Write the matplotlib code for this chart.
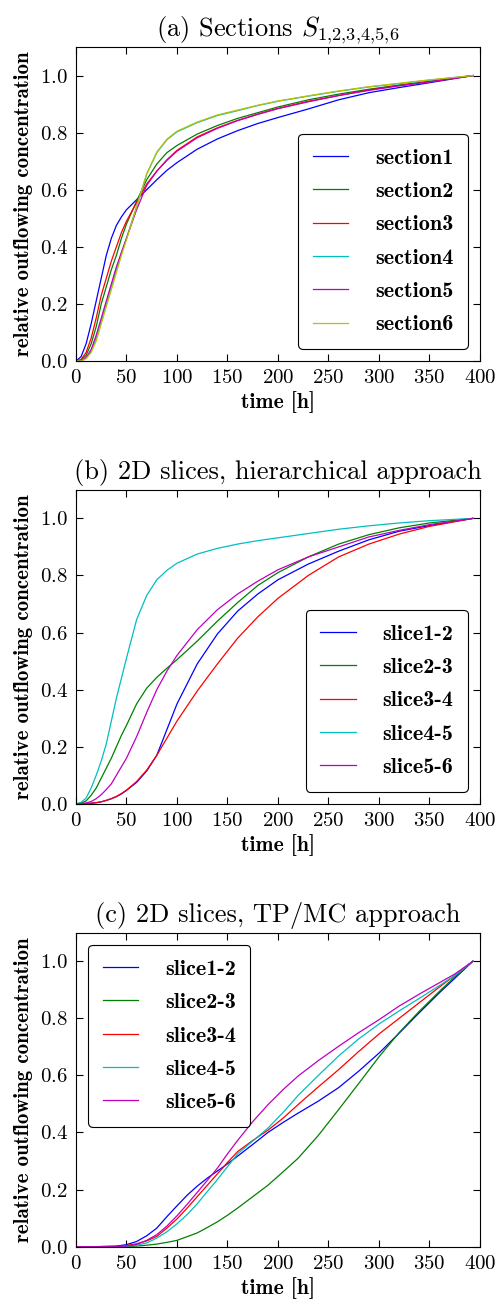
import matplotlib
matplotlib.use("Agg")
import matplotlib.pyplot as plt
from matplotlib.font_manager import FontProperties

plt.rcParams['font.family'] = 'cmr10'
plt.rcParams['mathtext.fontset'] = 'cm'
plt.rcParams['axes.unicode_minus'] = False
plt.rcParams['axes.formatter.use_mathtext'] = True

# classic matplotlib colours b, g, r, c, m, y
colors = ['#0000ff', '#008000', '#ff0000', '#00bfbf', '#bf00bf', '#bfbf00']

# (a) sections S1..S6
t_a = [0, 5, 10, 15, 20, 25, 30, 35, 40, 45, 50, 60, 70, 80, 90, 100, 120,
       140, 160, 180, 200, 230, 260, 290, 320, 350, 393]
section1 = [0.0, 0.015, 0.06, 0.13, 0.21, 0.29, 0.37, 0.43, 0.475, 0.505, 0.53, 0.565,
            0.6, 0.635, 0.668, 0.695, 0.742, 0.778, 0.807, 0.832, 0.853, 0.883, 0.915,
            0.94, 0.958, 0.975, 1.0]
section2 = [0.0, 0.003, 0.02, 0.06, 0.12, 0.2, 0.26, 0.32, 0.37, 0.43, 0.48, 0.56,
            0.635, 0.69, 0.73, 0.755, 0.795, 0.825, 0.85, 0.87, 0.89, 0.915, 0.935,
            0.952, 0.967, 0.98, 1.0]
section3 = [0.0, 0.005, 0.03, 0.08, 0.15, 0.23, 0.29, 0.35, 0.4, 0.45, 0.49, 0.555,
            0.62, 0.665, 0.705, 0.738, 0.785, 0.817, 0.843, 0.865, 0.885, 0.91, 0.93,
            0.95, 0.965, 0.978, 1.0]
section4 = [0.0, 0.0, 0.01, 0.035, 0.08, 0.14, 0.2, 0.26, 0.32, 0.38, 0.43, 0.54,
            0.655, 0.73, 0.775, 0.803, 0.835, 0.86, 0.877, 0.895, 0.91, 0.928, 0.945,
            0.96, 0.972, 0.984, 1.0]
section5 = [0.0, 0.0, 0.012, 0.04, 0.09, 0.15, 0.21, 0.27, 0.33, 0.38, 0.43, 0.53,
            0.615, 0.665, 0.703, 0.735, 0.782, 0.815, 0.842, 0.864, 0.884, 0.908, 0.93,
            0.948, 0.964, 0.978, 1.0]
section6 = [0.0, 0.0, 0.008, 0.03, 0.07, 0.13, 0.19, 0.25, 0.31, 0.37, 0.425, 0.54,
            0.655, 0.732, 0.777, 0.805, 0.837, 0.862, 0.879, 0.896, 0.911, 0.929, 0.946,
            0.961, 0.973, 0.985, 1.0]
labels_a = ['section1', 'section2', 'section3', 'section4', 'section5', 'section6']

# (b) 2D slices, hierarchical approach
t_b = t_a
hier_12 = [0.0, 0.0, 0.001, 0.002, 0.004, 0.007, 0.012, 0.018, 0.025, 0.035, 0.047, 0.075,
           0.115, 0.17, 0.26, 0.35, 0.49, 0.595, 0.675, 0.735, 0.785, 0.84, 0.885,
           0.925, 0.955, 0.975, 1.0]
hier_23 = [0.0, 0.002, 0.01, 0.03, 0.055, 0.09, 0.125, 0.16, 0.2, 0.24, 0.275, 0.35,
           0.405, 0.443, 0.475, 0.505, 0.57, 0.64, 0.705, 0.765, 0.81, 0.865, 0.91,
           0.943, 0.967, 0.984, 1.0]
hier_34 = [0.0, 0.0, 0.001, 0.002, 0.004, 0.007, 0.012, 0.018, 0.026, 0.036, 0.048, 0.078,
           0.118, 0.17, 0.23, 0.29, 0.395, 0.49, 0.58, 0.655, 0.72, 0.8, 0.865,
           0.91, 0.945, 0.972, 1.0]
hier_45 = [0.0, 0.005, 0.02, 0.055, 0.1, 0.15, 0.21, 0.29, 0.37, 0.44, 0.51, 0.645,
           0.73, 0.785, 0.818, 0.843, 0.875, 0.895, 0.91, 0.922, 0.932, 0.947, 0.962,
           0.974, 0.984, 0.992, 1.0]
hier_56 = [0.0, 0.001, 0.003, 0.008, 0.018, 0.032, 0.05, 0.07, 0.1, 0.13, 0.16, 0.235,
           0.32, 0.4, 0.465, 0.52, 0.61, 0.68, 0.735, 0.78, 0.82, 0.865, 0.9,
           0.935, 0.958, 0.978, 1.0]
labels_slices = ['slice1-2', 'slice2-3', 'slice3-4', 'slice4-5', 'slice5-6']

# (c) 2D slices, TP/MC approach
t_c = [0, 20, 40, 50, 60, 70, 80, 90, 100, 110, 120, 130, 140, 150, 160, 175, 190,
       205, 220, 240, 260, 280, 300, 320, 340, 360, 375, 393]
tpmc_12 = [0.0, 0.0, 0.002, 0.007, 0.018, 0.038, 0.065, 0.105, 0.143, 0.18, 0.212, 0.24,
           0.265, 0.29, 0.317, 0.358, 0.4, 0.435, 0.468, 0.51, 0.557, 0.615, 0.678,
           0.748, 0.82, 0.89, 0.94, 1.0]
tpmc_23 = [0.0, 0.0, 0.0, 0.0, 0.002, 0.005, 0.009, 0.015, 0.022, 0.035, 0.048, 0.067,
           0.087, 0.11, 0.135, 0.175, 0.215, 0.262, 0.31, 0.39, 0.48, 0.572, 0.665,
           0.75, 0.825, 0.895, 0.945, 1.0]
tpmc_34 = [0.0, 0.0, 0.001, 0.004, 0.01, 0.02, 0.036, 0.065, 0.097, 0.135, 0.175, 0.215,
           0.255, 0.295, 0.333, 0.372, 0.408, 0.45, 0.498, 0.56, 0.62, 0.684, 0.745,
           0.8, 0.855, 0.91, 0.95, 1.0]
tpmc_45 = [0.0, 0.0, 0.0, 0.001, 0.005, 0.013, 0.03, 0.052, 0.08, 0.112, 0.15, 0.193,
           0.235, 0.28, 0.325, 0.37, 0.415, 0.47, 0.53, 0.6, 0.668, 0.728, 0.78,
           0.826, 0.87, 0.915, 0.95, 1.0]
tpmc_56 = [0.0, 0.0, 0.0, 0.002, 0.008, 0.022, 0.042, 0.072, 0.108, 0.148, 0.19, 0.232,
           0.275, 0.325, 0.372, 0.438, 0.497, 0.55, 0.598, 0.652, 0.702, 0.75, 0.795,
           0.843, 0.885, 0.925, 0.955, 1.0]

titles = [r'(a) Sections $S_{1{,}2{,}3{,}4{,}5{,}6}$',
          '(b) 2D slices, hierarchical approach',
          '(c) 2D slices, TP/MC approach']

ylab_font = FontProperties(family='cmb10', size=15)
xlab_font = FontProperties(family='cmb10', size=15.5)
leg_font = FontProperties(family='cmb10', size=16)


def draw_panel(ax, t, series, labels, title, legend_loc):
    for i, y in enumerate(series):
        ax.plot(t, y, color=colors[i], lw=0.9, label=labels[i])
    ax.set_xlim(0, 400)
    ax.set_ylim(0, 1.1)
    ax.set_xticks(range(0, 401, 50))
    ax.set_yticks([0.0, 0.2, 0.4, 0.6, 0.8, 1.0])
    ax.tick_params(direction='in', top=True, right=True, length=5, labelsize=15, pad=6)
    ax.set_title(title, fontsize=19, pad=8)
    ax.set_xlabel('time [h]', fontproperties=xlab_font, labelpad=3)
    ax.set_ylabel('relative outflowing concentration', fontproperties=ylab_font, labelpad=5)
    leg = ax.legend(loc=legend_loc, prop=leg_font, labelspacing=0.62, borderpad=0.65,
                    handlelength=1.6, handletextpad=1.2, borderaxespad=0.55,
                    fancybox=True, framealpha=1)
    leg.get_frame().set_edgecolor('black')
    leg.get_frame().set_linewidth(0.8)


fig = plt.figure(figsize=(4.96, 12.99), dpi=100)
ax_a = fig.add_axes([0.1532, 0.7221, 0.8145, 0.2417])
ax_b = fig.add_axes([0.1532, 0.3812, 0.8145, 0.2417])
ax_c = fig.add_axes([0.1532, 0.0403, 0.8145, 0.2417])

draw_panel(ax_a, t_a, [section1, section2, section3, section4, section5, section6],
           labels_a, titles[0], 'lower right')
draw_panel(ax_b, t_b, [hier_12, hier_23, hier_34, hier_45, hier_56],
           labels_slices, titles[1], 'lower right')
draw_panel(ax_c, t_c, [tpmc_12, tpmc_23, tpmc_34, tpmc_45, tpmc_56],
           labels_slices, titles[2], 'upper left')

fig.savefig('out.png', dpi=100)
plt.close(fig)
